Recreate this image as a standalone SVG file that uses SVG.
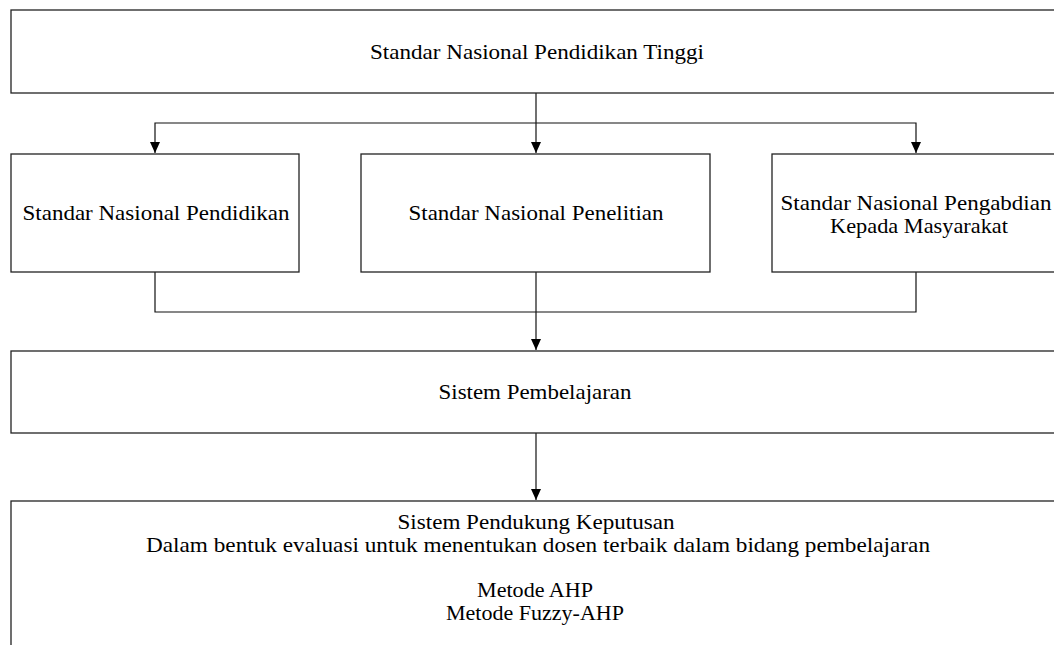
<svg xmlns="http://www.w3.org/2000/svg" width="1054" height="645" viewBox="0 0 1054 645">
<style>
.box{fill:#fff;stroke:#222;stroke-width:1.3}
.ln{fill:none;stroke:#111;stroke-width:1.2}
.t{font-family:"Liberation Serif","Times New Roman",serif;font-size:21px;fill:#000;text-anchor:middle}
</style>
<defs>
<marker id="ah" markerWidth="12" markerHeight="10" refX="11" refY="5" orient="auto-start-reverse" markerUnits="userSpaceOnUse" viewBox="0 0 12 10">
<path d="M0,0 L11,5 L0,10 Z" fill="#000"/>
</marker>
</defs>
<rect width="1054" height="645" fill="#fff"/>
<g id="connectors">
<path class="ln" d="M536,93 V153" marker-end="url(#ah)"/>
<path class="ln" d="M155,153 V123 H916 V153" marker-start="url(#ah)" marker-end="url(#ah)"/>
<path class="ln" d="M155,272 V312 H916 V272"/>
<path class="ln" d="M536,272 V350" marker-end="url(#ah)"/>
<path class="ln" d="M536,433 V500" marker-end="url(#ah)"/>
</g>
<g id="n-snpt">
<rect class="box" x="11" y="10" width="1060" height="83"/>
<text class="t" x="537" y="59" textLength="334" lengthAdjust="spacingAndGlyphs">Standar Nasional Pendidikan Tinggi</text>
</g>
<g id="n-pendidikan">
<rect class="box" x="11" y="154" width="288" height="118"/>
<text class="t" x="156" y="220" textLength="267" lengthAdjust="spacingAndGlyphs">Standar Nasional Pendidikan</text>
</g>
<g id="n-penelitian">
<rect class="box" x="361" y="154" width="349" height="118"/>
<text class="t" x="536" y="220" textLength="255" lengthAdjust="spacingAndGlyphs">Standar Nasional Penelitian</text>
</g>
<g id="n-pengabdian">
<rect class="box" x="772" y="154" width="300" height="118"/>
<text class="t" x="916" y="210" textLength="271" lengthAdjust="spacingAndGlyphs">Standar Nasional Pengabdian</text>
<text class="t" x="919" y="233" textLength="178" lengthAdjust="spacingAndGlyphs">Kepada Masyarakat</text>
</g>
<g id="n-sp">
<rect class="box" x="11" y="351" width="1060" height="82"/>
<text class="t" x="535" y="399" textLength="193" lengthAdjust="spacingAndGlyphs">Sistem Pembelajaran</text>
</g>
<g id="n-spk">
<rect class="box" x="11" y="501" width="1060" height="160"/>
<text class="t" x="536" y="529" textLength="277" lengthAdjust="spacingAndGlyphs">Sistem Pendukung Keputusan</text>
<text class="t" x="538" y="552" textLength="784" lengthAdjust="spacingAndGlyphs">Dalam bentuk evaluasi untuk menentukan dosen terbaik dalam bidang pembelajaran</text>
<text class="t" x="535" y="597" textLength="116" lengthAdjust="spacingAndGlyphs">Metode AHP</text>
<text class="t" x="535" y="620" textLength="178" lengthAdjust="spacingAndGlyphs">Metode Fuzzy-AHP</text>
</g>
</svg>
